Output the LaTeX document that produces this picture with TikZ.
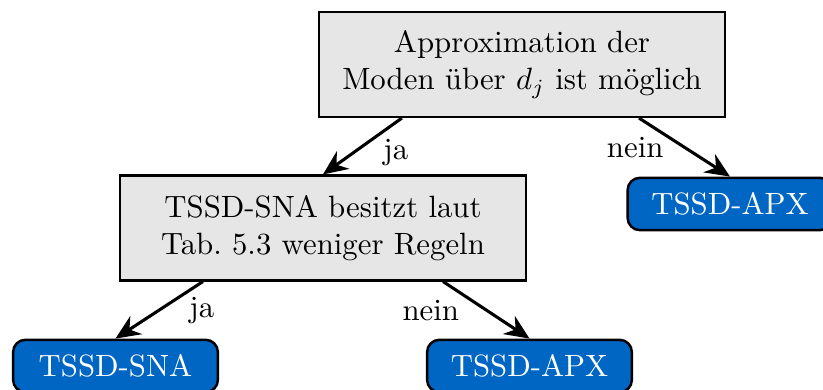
\documentclass[tikz,border=0pt]{standalone}
\usepackage{tikz}
\usetikzlibrary{arrows.meta, positioning}

\begin{document}
\begin{tikzpicture}[x=0.3247pt, y=-0.3247pt,
    frage/.style={draw, thick, fill=boxgray, align=center,
      minimum width=132pt, minimum height=34pt, inner sep=0pt},
    blatt/.style={draw, thick, fill=leafblue, text=white, rounded corners=4pt,
      minimum width=66.5pt, minimum height=17pt, inner sep=0pt},
    kante/.style={line width=1pt, -{Stealth[length=8pt, width=7pt]}}]
    % Colors
    \definecolor{boxgray}{RGB}{230, 230, 230}
    \definecolor{leafblue}{RGB}{0, 102, 196}

    \useasboundingbox (0,0) rectangle (823,390);

    % Decisions
    \node[frage] (approx) at (522, 64.5) {Approximation der\\Moden über $d_j$ ist möglich};
    \node[frage] (regeln) at (323, 228) {TSSD-SNA besitzt laut\\Tab.~5.3 weniger Regeln};

    % Results
    \node[blatt] (apxoben) at (730, 204) {TSSD-APX};
    \node[blatt] (sna) at (115.5, 366) {TSSD-SNA};
    \node[blatt] (apxunten) at (529.5, 366) {TSSD-APX};

    % Edges with answers
    \draw[kante] ([xshift=-39pt]approx.south) -- (regeln.north)
      node[midway, right=3pt, yshift=-2pt] {ja};
    \draw[kante] ([xshift=38pt]approx.south) -- (apxoben.north)
      node[midway, left=3pt] {nein};
    \draw[kante] ([xshift=-39pt]regeln.south) -- (sna.north)
      node[midway, right=6pt] {ja};
    \draw[kante] ([xshift=39pt]regeln.south) -- (apxunten.north)
      node[midway, left=5pt] {nein};
\end{tikzpicture}
\end{document}
